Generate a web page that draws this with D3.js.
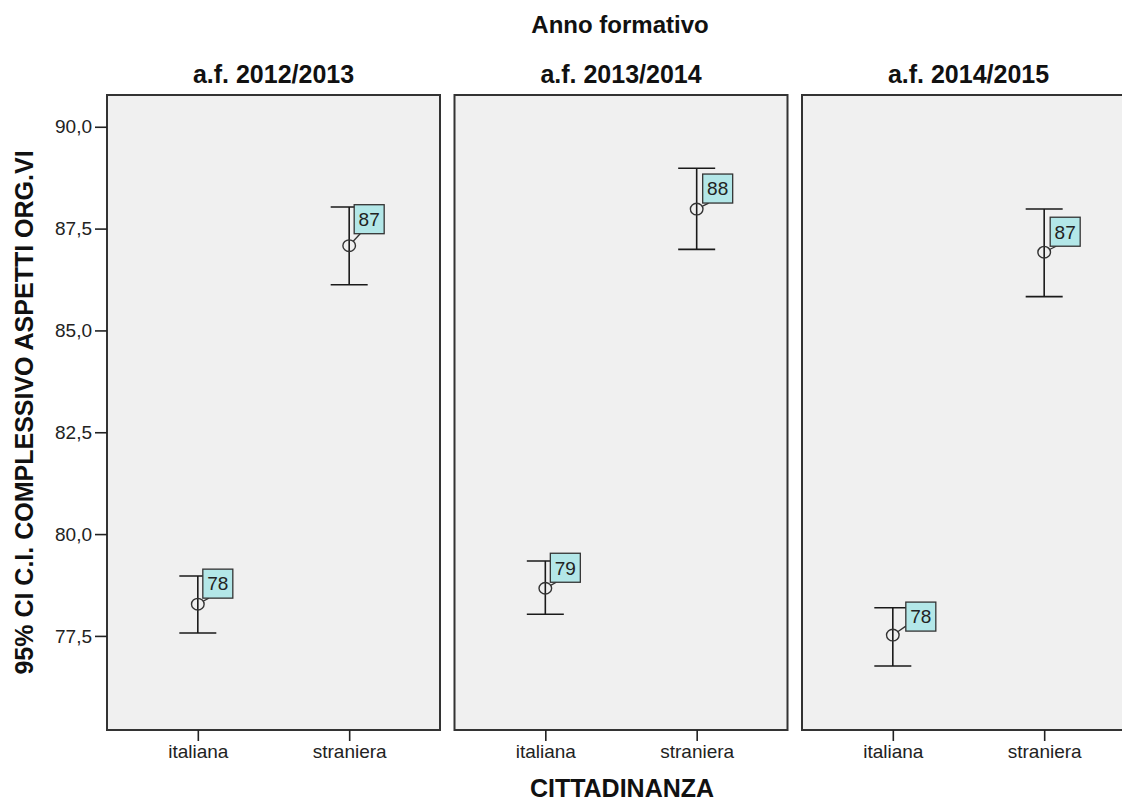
<!DOCTYPE html>
<html>
<head>
<meta charset="utf-8">
<script src="https://cdn.jsdelivr.net/npm/d3@7"></script>
<style>
  html, body { margin: 0; padding: 0; background: #ffffff; }
  svg { display: block; }
  text { font-family: "Liberation Sans", Arial, sans-serif; }
</style>
</head>
<body>
<svg id="chart" width="1122" height="802"></svg>
<script>
// ---- data ----
const years = ["a.f. 2012/2013", "a.f. 2013/2014", "a.f. 2014/2015"];
const categories = ["italiana", "straniera"];
const meanItaliana  = [78.28, 78.67, 77.52];
const meanStraniera = [87.08, 87.98, 86.92];
const lowItaliana   = [77.57, 78.03, 76.76];
const lowStraniera  = [86.12, 86.99, 85.83];
const highItaliana  = [78.97, 79.34, 78.19];
const highStraniera = [88.03, 88.98, 87.98];
const yTicks = [77.5, 80.0, 82.5, 85.0, 87.5, 90.0];
const yDomain = [75.19, 90.78];
const panelTitle = "Anno formativo";
const xTitle = "CITTADINANZA";
const yTitle = "95% CI C.I. COMPLESSIVO ASPETTI ORG.VI";
// label placement nudges (dx, dy of box bottom-left from the point), per year: [italiana, straniera]
const labelNudge = [[[5, -6], [5, -12]], [[5, -6], [6, -6]], [[13, -4], [6, -6]]];

// ---- build rows ----
const rows = [];
years.forEach((yr, i) => {
  rows.push({year: yr, cat: categories[0], mean: meanItaliana[i], lo: lowItaliana[i], hi: highItaliana[i], nudge: labelNudge[i][0]});
  rows.push({year: yr, cat: categories[1], mean: meanStraniera[i], lo: lowStraniera[i], hi: highStraniera[i], nudge: labelNudge[i][1]});
});

const svg = d3.select("#chart");
const plotTop = 95, plotBottom = 730;

const fx = d3.scaleBand().domain(years).range([107, 1135]).paddingInner(14.5 / 347.5).paddingOuter(0);
const x = d3.scalePoint().domain(categories).range([0, fx.bandwidth()]).padding(0.6);
const y = d3.scaleLinear().domain(yDomain).range([plotBottom, plotTop]);

const fmtComma = d => d3.format(".1f")(d).replace(".", ",");

// overall title
svg.append("text")
  .attr("x", 620).attr("y", 33)
  .attr("text-anchor", "middle")
  .attr("font-size", 24).attr("font-weight", "bold").attr("fill", "#111")
  .text(panelTitle);

// x title
svg.append("text")
  .attr("x", 622).attr("y", 797)
  .attr("text-anchor", "middle")
  .attr("font-size", 25).attr("font-weight", "bold").attr("fill", "#111")
  .text(xTitle);

// y title
svg.append("text")
  .attr("transform", `translate(33,${(plotTop + plotBottom) / 2}) rotate(-90)`)
  .attr("text-anchor", "middle")
  .attr("font-size", 25).attr("font-weight", "bold").attr("fill", "#111")
  .text(yTitle);

const panels = svg.selectAll("g.panel").data(years).join("g")
  .attr("class", "panel")
  .attr("transform", d => `translate(${fx(d)},0)`);

panels.append("rect")
  .attr("x", 0).attr("y", plotTop)
  .attr("width", fx.bandwidth()).attr("height", plotBottom - plotTop)
  .attr("fill", "#f0f0f0").attr("stroke", "#333").attr("stroke-width", 2);

panels.append("text")
  .attr("x", fx.bandwidth() / 2).attr("y", 83)
  .attr("text-anchor", "middle")
  .attr("font-size", 25).attr("font-weight", "bold").attr("fill", "#111")
  .text(d => d);

// x axes
panels.append("g")
  .attr("transform", `translate(0,${plotBottom})`)
  .each(function () {
    const g = d3.select(this).call(d3.axisBottom(x).tickSize(11).tickPadding(4));
    g.select(".domain").remove();
    g.selectAll(".tick line").attr("stroke", "#222").attr("stroke-width", 1.6);
    g.selectAll(".tick text").attr("font-size", 19).attr("fill", "#222")
      .attr("font-family", "'Liberation Sans', Arial, sans-serif");
  });

// y axis (first panel)
const yAxisG = svg.append("g")
  .attr("transform", `translate(${fx(years[0])},0)`)
  .call(d3.axisLeft(y).tickValues(yTicks).tickFormat(fmtComma).tickSize(12).tickPadding(3));
yAxisG.select(".domain").remove();
yAxisG.selectAll(".tick line").attr("stroke", "#222").attr("stroke-width", 1.6);
yAxisG.selectAll(".tick text").attr("font-size", 19).attr("fill", "#222")
  .attr("font-family", "'Liberation Sans', Arial, sans-serif");

// error bars
const capHalf = 18.5;
panels.each(function (yr) {
  const g = d3.select(this);
  const data = rows.filter(r => r.year === yr);
  const items = g.selectAll("g.item").data(data).join("g").attr("class", "item");

  items.append("line")
    .attr("x1", d => x(d.cat)).attr("x2", d => x(d.cat))
    .attr("y1", d => y(d.lo)).attr("y2", d => y(d.hi))
    .attr("stroke", "#1a1a1a").attr("stroke-width", 1.6);
  items.append("line")
    .attr("x1", d => x(d.cat) - capHalf).attr("x2", d => x(d.cat) + capHalf)
    .attr("y1", d => y(d.hi)).attr("y2", d => y(d.hi))
    .attr("stroke", "#1a1a1a").attr("stroke-width", 1.6);
  items.append("line")
    .attr("x1", d => x(d.cat) - capHalf).attr("x2", d => x(d.cat) + capHalf)
    .attr("y1", d => y(d.lo)).attr("y2", d => y(d.lo))
    .attr("stroke", "#1a1a1a").attr("stroke-width", 1.6);

  // leader line
  const boxW = 30, boxH = 29, r = 6;
  items.append("line")
    .each(function (d) {
      const cx = x(d.cat), cy = y(d.mean);
      const bl = cx + d.nudge[0], bb = cy + d.nudge[1];
      let tx, ty;
      if (d.nudge[0] > 8) { tx = bl; ty = bb - 5; } else { tx = bl + 6; ty = bb; }
      const dx = tx - cx, dy = ty - cy, len = Math.hypot(dx, dy);
      d3.select(this)
        .attr("x1", cx + dx / len * r).attr("y1", cy + dy / len * r)
        .attr("x2", tx).attr("y2", ty);
    })
    .attr("stroke", "#333").attr("stroke-width", 1.3);

  items.append("ellipse")
    .attr("cx", d => x(d.cat)).attr("cy", d => y(d.mean))
    .attr("rx", 6.3).attr("ry", 5.8)
    .attr("fill", "none").attr("stroke", "#333").attr("stroke-width", 1.4);

  items.append("rect")
    .attr("x", d => x(d.cat) + d.nudge[0])
    .attr("y", d => y(d.mean) + d.nudge[1] - boxH)
    .attr("width", boxW).attr("height", boxH)
    .attr("fill", "#b3e7e8").attr("stroke", "#333").attr("stroke-width", 1.3);

  items.append("text")
    .attr("x", d => x(d.cat) + d.nudge[0] + boxW / 2)
    .attr("y", d => y(d.mean) + d.nudge[1] - boxH / 2)
    .attr("dy", "0.36em")
    .attr("text-anchor", "middle")
    .attr("font-size", 19).attr("fill", "#222")
    .text(d => d3.format(".0f")(d.mean));
});
</script>
</body>
</html>
